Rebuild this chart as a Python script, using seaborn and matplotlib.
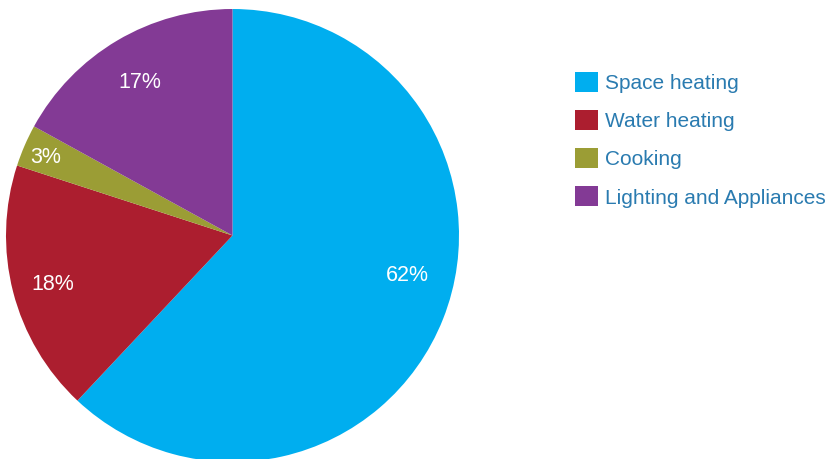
import numpy as np
import pandas as pd
import seaborn as sns
import matplotlib
matplotlib.use("Agg")
import matplotlib.pyplot as plt
from matplotlib.patches import Patch

# Household energy use by end use (%)
categories = ["Space heating", "Water heating", "Cooking", "Lighting and Appliances"]
shares = [62, 18, 3, 17]
colors = ["#00AEEF", "#AC1E2F", "#9B9D35", "#833A95"]

df = pd.DataFrame({"category": categories, "share": shares})

sns.set_theme(style="white")
plt.rcParams["font.family"] = ["Liberation Sans", "DejaVu Sans"]

W, H = 827, 459
fig = plt.figure(figsize=(W / 100, H / 100), dpi=100)
fig.patch.set_facecolor("white")

# pie axes: square box, placed in pixel terms
cx, cy, r = 232.5, 235.5, 226.5
ax = fig.add_axes([(cx - r) / W, (H - cy - r) / H, 2 * r / W, 2 * r / H])
ax.set_facecolor("none")

wedges, _ = ax.pie(
    df["share"],
    colors=colors,
    startangle=90,
    counterclock=False,
    radius=1.0,
    wedgeprops=dict(linewidth=0, edgecolor="none", antialiased=True),
)
ax.set_xlim(-1, 1)
ax.set_ylim(-1, 1)
ax.set_aspect("equal")
ax.axis("off")

# percentage labels inside each wedge
label_dist = [0.79, 0.82, 0.90, 0.80]
angle_shift = [9.6, 0.0, 0.0, 0.0]
for w, val, d, s in zip(wedges, df["share"], label_dist, angle_shift):
    mid = np.deg2rad((w.theta1 + w.theta2) / 2 + s)
    ax.text(d * np.cos(mid), d * np.sin(mid), f"{val}%",
            ha="center", va="center_baseline", color="white", fontsize=15.5)

handles = [Patch(facecolor=c, edgecolor="none") for c in colors]
leg = fig.legend(
    handles, categories,
    loc="upper left",
    bbox_to_anchor=(575 / W, 1 - 72 / H),
    frameon=False,
    fontsize=15,
    handlelength=1.1,
    handleheight=1.1,
    handletextpad=0.35,
    labelspacing=0.82,
    borderpad=0,
    borderaxespad=0,
)
for t in leg.get_texts():
    t.set_color("#2A7BB0")

fig.savefig("out.png", dpi=100, facecolor="white")
